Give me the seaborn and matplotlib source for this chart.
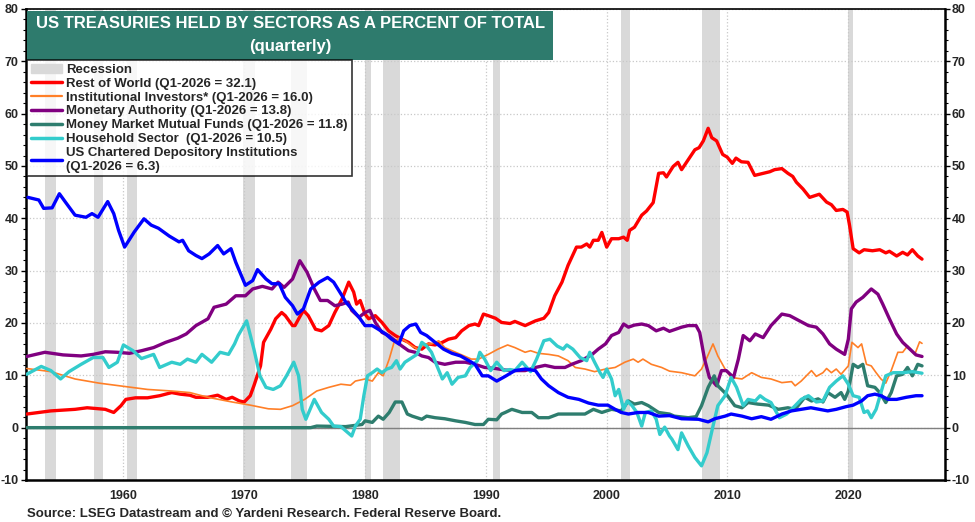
import matplotlib
matplotlib.use("Agg")
import matplotlib.pyplot as plt
import matplotlib.patches as mpatches
from matplotlib.ticker import MultipleLocator
import seaborn as sns
import pandas as pd

# ---- data (year, percent of total) ----
row_years = [1952.0, 1954, 1956, 1957, 1958.5, 1959.2, 1959.8, 1960.2, 1961, 1962, 1963, 1964, 1964.7,
             1965.5, 1966, 1967, 1967.8, 1968.5, 1969, 1969.6, 1970.0, 1970.5, 1970.8, 1971.35, 1971.6,
             1972.2, 1972.6, 1973.1, 1973.4, 1974.0, 1974.2, 1974.65, 1974.9, 1975.3, 1975.9, 1976.4,
             1977.0, 1977.5, 1978.1, 1978.65, 1979.06, 1979.3, 1979.6, 1980.0, 1980.3, 1980.85, 1981.4,
             1981.95, 1982.5, 1983.05, 1983.6, 1984.15, 1984.7, 1985.25, 1985.8, 1986.4, 1986.9, 1987.5,
             1988.0, 1988.6, 1989.1, 1989.4, 1989.8, 1990.2, 1990.8, 1991.3, 1992.0, 1992.4, 1993.25,
             1994.1, 1994.8, 1995.2, 1995.7, 1996.3, 1996.8, 1997.5, 1997.9, 1998.35, 1998.6, 1998.9,
             1999.3, 1999.6, 2000.0, 2000.4, 2001.0, 2001.4, 2001.7, 2001.9, 2002.3, 2002.9, 2003.3,
             2003.85, 2004.3, 2004.7, 2004.95, 2005.5, 2005.9, 2006.2, 2006.75, 2007.3, 2007.65, 2008.0,
             2008.4, 2008.7, 2009.1, 2009.6, 2009.97, 2010.4, 2010.7, 2011.15, 2011.7, 2012.25, 2012.95,
             2013.5, 2013.9, 2014.5, 2015.0, 2015.4, 2015.7, 2016.25, 2016.8, 2017.6, 2018.2, 2018.6,
             2019.0, 2019.55, 2019.9, 2020.1, 2020.4, 2020.9, 2021.3, 2022.0, 2022.6, 2023.1, 2023.4,
             2024.0, 2024.5, 2024.9, 2025.3, 2025.75, 2026.1]
row_vals = [2.6, 3.2, 3.5, 3.8, 3.5, 2.9, 4.2, 5.4, 5.7, 5.7, 6.1, 6.7, 6.4,
            6.2, 5.8, 5.8, 6.2, 5.4, 5.8, 5.1, 4.9, 6.1, 8.0, 11.8, 16.3,
            18.8, 20.8, 22.0, 21.4, 19.5, 19.5, 21.4, 22.4, 21.4, 18.8, 18.5,
            19.5, 22.0, 24.6, 27.8, 25.9, 23.6, 24.3, 21.7, 20.8, 21.4, 20.1,
            18.5, 17.6, 16.9, 16.3, 15.3, 15.0, 16.0, 15.8, 16.3, 16.9, 17.2,
            18.5, 19.5, 19.8, 19.5, 21.7, 21.4, 20.9, 20.1, 19.9, 20.3, 19.5,
            20.4, 20.9, 22.0, 25.2, 27.8, 31.0, 34.5, 34.5, 35.1, 34.5, 35.8,
            35.8, 37.3, 34.5, 36.1, 36.1, 36.4, 35.8, 37.7, 38.3, 40.6, 41.4,
            43.0, 48.6, 48.7, 47.9, 49.9, 50.7, 49.3, 51.2, 53.1, 53.5, 54.8,
            57.2, 55.4, 54.8, 52.2, 51.7, 50.5, 51.5, 50.8, 50.7, 48.2, 48.6,
            48.9, 49.3, 49.5, 48.6, 48.0, 46.9, 45.6, 44.0, 44.6, 43.1, 42.6,
            41.5, 41.7, 41.2, 38.7, 34.2, 33.4, 34.0, 33.8, 34.0, 33.4, 33.7,
            32.8, 33.5, 33.0, 34.0, 32.8, 32.2]

inst_years = [1952, 1954, 1956, 1958, 1960, 1962, 1964, 1965.5, 1967, 1969, 1970.5, 1972, 1973, 1974,
              1975, 1976, 1977, 1978, 1978.8, 1979.2, 1980, 1980.6, 1981.1, 1981.5, 1982.0, 1982.4,
              1982.8, 1983.3, 1983.9, 1984.4, 1985.0, 1985.5, 1986.1, 1986.6, 1987.5, 1988.2, 1988.8,
              1989.4, 1990.2, 1991.0, 1991.8, 1992.4, 1993.25, 1993.7, 1994.35, 1995.2, 1996.0, 1996.8,
              1997.4, 1998.2, 1999.0, 1999.9, 2000.7, 2001.5, 2002.2, 2002.6, 2003.0, 2003.7, 2004.55,
              2005.2, 2006.2, 2007.3, 2007.85, 2008.3, 2008.8, 2009.2, 2009.8, 2010.3, 2011.2, 2012.0,
              2012.8, 2013.6, 2014.5, 2015.3, 2015.6, 2016.1, 2016.95, 2017.35, 2017.9, 2018.2, 2018.6,
              2019.0, 2019.4, 2020.0, 2020.3, 2020.8, 2021.1, 2021.5, 2021.9, 2022.3, 2022.7, 2023.1,
              2023.55, 2024.1, 2024.5, 2024.9, 2025.5, 2025.9, 2026.1]
inst_vals = [11.3, 10.7, 9.3, 8.5, 7.9, 7.3, 7.0, 6.7, 5.8, 4.9, 4.3, 3.6, 3.5, 4.2,
             5.4, 7.0, 7.7, 8.3, 8.1, 8.9, 9.3, 8.9, 10.5, 9.9, 13.1, 16.3,
             17.1, 16.6, 15.6, 15.0, 16.0, 16.0, 16.6, 15.3, 14.4, 13.7, 13.1,
             13.1, 14.0, 15.0, 15.8, 15.3, 14.4, 14.7, 14.2, 14.0, 13.7, 12.8,
             11.5, 11.2, 10.7, 11.2, 11.5, 12.5, 13.1, 12.5, 13.1, 12.1, 11.5,
             10.8, 10.5, 9.9, 11.2, 13.4, 16.0, 13.7, 11.2, 9.6, 9.3, 10.5,
             9.6, 9.3, 8.6, 8.8, 8.0, 8.9, 10.9, 9.8, 10.5, 11.3, 10.5,
             11.2, 10.2, 11.8, 16.3, 15.3, 16.0, 12.1, 11.8, 10.5, 9.3, 8.5,
             10.9, 14.4, 14.4, 15.6, 14.0, 16.4, 16.1]

mon_years = [1952, 1953.5, 1955, 1956.5, 1957.5, 1958.5, 1959.5, 1960.5, 1961.5, 1962.5, 1963.5, 1964.5,
             1965.2, 1966, 1967, 1967.5, 1968.5, 1969.3, 1970.1, 1970.7, 1971.5, 1972.3, 1972.8, 1973.3,
             1974.0, 1974.6, 1975.2, 1975.8, 1976.3, 1976.9, 1977.5, 1978.1, 1978.6, 1978.9, 1979.5,
             1980.0, 1980.4, 1980.85, 1981.4, 1981.95, 1982.5, 1983.05, 1983.6, 1984.15, 1984.7, 1985.25,
             1985.8, 1986.6, 1987.5, 1988.3, 1989.1, 1989.9, 1990.8, 1991.6, 1992.4, 1993.25, 1994.1,
             1994.9, 1995.7, 1996.55, 1997.1, 1997.9, 1998.8, 1999.3, 1999.9, 2000.4, 2001.0, 2001.4,
             2001.8, 2002.3, 2002.9, 2003.45, 2004.1, 2004.7, 2005.2, 2006.2, 2006.75, 2007.4, 2007.7,
             2008.1, 2008.5, 2009.1, 2009.5, 2009.9, 2010.5, 2010.9, 2011.3, 2011.85, 2012.3, 2012.95,
             2013.6, 2014.5, 2015.15, 2015.8, 2016.7, 2017.35, 2017.9, 2018.45, 2019.0, 2019.7, 2020.0,
             2020.25, 2020.65, 2021.2, 2021.9, 2022.45, 2022.85, 2023.4, 2024.0, 2024.5, 2025.1, 2025.6,
             2026.1]
mon_vals = [13.6, 14.4, 13.9, 13.7, 14.0, 14.5, 14.4, 14.2, 14.7, 15.3, 16.3, 17.1,
            17.9, 19.5, 20.8, 23.0, 23.6, 25.2, 25.2, 26.5, 27.0, 26.5, 27.8, 26.8,
            28.4, 31.9, 29.7, 26.5, 24.3, 24.3, 23.3, 23.6, 24.0, 22.4, 21.1,
            22.0, 22.4, 20.1, 18.2, 17.6, 16.6, 15.6, 14.7, 14.4, 13.7, 13.4,
            12.5, 12.1, 12.5, 12.5, 12.1, 11.5, 11.3, 11.0, 10.9, 10.9, 11.5,
            11.9, 11.5, 11.5, 12.1, 12.8, 14.0, 15.0, 16.0, 17.6, 18.2, 19.8,
            19.2, 19.6, 19.8, 19.5, 18.5, 19.0, 18.4, 19.2, 19.5, 19.5, 18.2,
            13.1, 9.6, 8.0, 10.9, 10.9, 9.6, 13.1, 17.6, 16.6, 17.9, 17.2,
            19.5, 21.7, 21.4, 20.6, 19.5, 19.2, 17.9, 16.0, 15.0, 14.0, 16.9,
            22.7, 24.0, 24.9, 26.5, 25.5, 23.6, 20.8, 17.9, 16.3, 15.0, 13.9,
            13.6]

mmmf_years = [1952, 1975.5, 1976, 1978.4, 1979.75, 1980.0, 1980.6, 1981.1, 1981.5, 1982.0, 1982.5, 1983.05,
              1983.5, 1983.9, 1984.7, 1985.1, 1985.8, 1986.6, 1987.5, 1988.3, 1989.1, 1989.8, 1990.2,
              1990.9, 1991.3, 1991.6, 1992.15, 1993.0, 1993.8, 1994.35, 1995.2, 1996.0, 1997.1, 1998.2,
              1998.9, 1999.6, 2000.4, 2001.2, 2001.8, 2002.3, 2002.9, 2003.45, 2004.3, 2005.2, 2005.6,
              2006.75, 2007.4, 2007.85, 2008.4, 2008.9, 2009.2, 2009.9, 2010.6, 2011.2, 2011.7, 2012.5,
              2013.4, 2014.2, 2015.0, 2015.6, 2016.4, 2016.95, 2017.5, 2017.9, 2018.3, 2018.9, 2019.4,
              2019.7, 2020.0, 2020.4, 2020.8, 2021.2, 2021.6, 2022.2, 2022.6, 2023.1, 2023.55, 2024.0,
              2024.5, 2024.9, 2025.3, 2025.75, 2026.1]
mmmf_vals = [0.0, 0.0, 0.3, 0.2, 0.6, 1.3, 1.0, 2.2, 1.6, 2.9, 4.9, 4.9,
             2.6, 2.2, 1.6, 2.2, 1.9, 1.7, 1.3, 1.0, 0.6, 0.6, 1.6,
             1.5, 2.6, 2.9, 3.5, 2.9, 2.9, 1.9, 1.9, 2.6, 2.6, 2.6,
             3.5, 2.9, 3.5, 3.2, 5.1, 4.5, 4.8, 4.2, 2.9, 2.6, 2.2,
             1.9, 2.1, 4.2, 7.7, 9.9, 8.0, 6.4, 4.2, 3.8, 4.8, 4.5,
             4.3, 3.5, 3.8, 3.5, 5.8, 5.1, 5.5, 4.9, 6.7, 5.8, 6.7,
             5.4, 7.0, 12.1, 11.5, 12.1, 8.0, 7.7, 6.7, 4.8, 6.7, 9.9,
             10.2, 11.5, 9.9, 12.1, 11.8]

hh_years = [1952, 1953.2, 1954.0, 1954.8, 1955.5, 1956.5, 1957.5, 1958.3, 1958.8, 1959.5, 1960.0, 1960.8,
            1961.5, 1962.5, 1963.0, 1964.0, 1964.7, 1965.3, 1966.0, 1966.5, 1967.3, 1968.0, 1968.7,
            1969.2, 1969.5, 1970.2, 1970.8, 1971.3, 1971.8, 1972.4, 1973.0, 1973.5, 1974.1, 1974.5,
            1974.8, 1975.1, 1975.8, 1976.4, 1977.0, 1977.4, 1978.0, 1978.6, 1978.9, 1979.2, 1979.6,
            1979.9, 1980.2, 1980.6, 1981.0, 1981.4, 1981.8, 1982.2, 1982.6, 1982.9, 1983.3, 1983.9,
            1984.3, 1984.7, 1985.1, 1985.5, 1985.9, 1986.4, 1986.8, 1987.2, 1987.7, 1988.3, 1988.7,
            1989.3, 1989.5, 1989.9, 1990.4, 1990.9, 1991.5, 1992.0, 1992.4, 1993.0, 1993.7, 1994.2,
            1994.8, 1995.3, 1995.9, 1996.4, 1996.7, 1997.2, 1997.8, 1998.35, 1998.6, 1999.0, 1999.45,
            1999.7, 2000.0, 2000.4, 2000.7, 2001.0, 2001.4, 2001.7, 2002.1, 2002.5, 2002.9, 2003.2,
            2003.7, 2004.1, 2004.4, 2004.8, 2005.2, 2005.4, 2005.9, 2006.2, 2006.75, 2007.3, 2007.85,
            2008.3, 2008.8, 2009.2, 2009.8, 2010.3, 2010.75, 2011.3, 2011.7, 2012.3, 2012.7, 2013.1,
            2013.6, 2014.3, 2014.9, 2015.6, 2016.1, 2016.7, 2017.35, 2017.9, 2018.45, 2019.0, 2019.55,
            2020.0, 2020.4, 2020.9, 2021.3, 2021.6, 2021.9, 2022.3, 2022.7, 2023.1, 2023.7, 2024.5,
            2025.3, 2026.1]
hh_vals = [10.2, 11.7, 10.9, 9.3, 10.7, 12.1, 13.4, 13.4, 11.5, 12.5, 15.8, 14.7,
           13.2, 14.0, 11.5, 12.5, 12.1, 13.1, 12.5, 14.0, 12.5, 14.4, 14.0,
           16.0, 17.6, 20.4, 15.0, 9.9, 7.7, 7.3, 8.0, 9.9, 12.5, 9.9,
           3.5, 1.6, 5.4, 2.9, 1.6, 0.3, 0.2, -1.0, -1.6, 0.3, 1.6,
           6.1, 9.9, 10.5, 11.2, 10.5, 11.2, 11.5, 12.8, 11.2, 12.5, 13.4,
           14.0, 16.3, 15.6, 14.4, 12.1, 9.3, 10.5, 8.3, 9.6, 9.9, 11.5,
           12.8, 14.4, 13.1, 10.9, 12.5, 10.9, 11.1, 10.9, 12.5, 10.7, 13.1,
           16.6, 16.9, 15.6, 15.0, 15.8, 15.0, 13.4, 12.8, 14.4, 12.5, 10.5,
           9.6, 11.2, 9.3, 6.1, 7.3, 3.5, 5.1, 4.2, 2.9, 0.3, 2.9,
           3.2, 1.6, -1.3, 0.1, -1.6, -2.2, -4.2, -1.0, -3.5, -5.7, -7.3,
           -4.8, 0.3, 4.2, 6.1, 9.6, 7.7, 4.2, 5.4, 5.1, 6.1, 5.4,
           4.8, 1.9, 2.6, 4.2, 5.4, 6.1, 4.9, 5.1, 7.7, 8.9, 9.9,
           8.3, 6.1, 5.8, 2.9, 3.2, 1.9, 3.5, 6.7, 9.9, 10.5, 10.5,
           10.7, 10.4]

bank_years = [1952.1, 1953.0, 1953.4, 1954.1, 1954.7, 1955.2, 1956.0, 1956.9, 1957.4, 1957.9, 1958.7,
              1959.2, 1959.6, 1960.1, 1960.9, 1961.7, 1962.3, 1962.9, 1963.8, 1964.6, 1964.9, 1965.4,
              1966.0, 1966.5, 1967.1, 1967.8, 1968.3, 1968.9, 1969.3, 1970.1, 1970.7, 1971.1, 1971.8,
              1972.3, 1972.9, 1973.4, 1974.0, 1974.4, 1974.9, 1975.5, 1976.2, 1976.9, 1977.4, 1978.1,
              1978.4, 1978.9, 1979.5, 1980.0, 1980.6, 1981.1, 1981.7, 1982.2, 1982.8, 1983.2, 1983.7,
              1984.2, 1984.6, 1985.1, 1985.8, 1986.5, 1987.2, 1987.9, 1988.6, 1989.1, 1989.7, 1990.2,
              1990.9, 1991.6, 1992.4, 1993.25, 1994.1, 1994.6, 1995.2, 1996.0, 1996.8, 1997.7, 1998.5,
              1999.3, 2000.1, 2000.7, 2001.2, 2001.8, 2002.6, 2003.45, 2004.3, 2005.2, 2006.2, 2007.6,
              2008.4, 2008.95, 2009.8, 2010.3, 2011.2, 2012.0, 2012.8, 2013.6, 2014.5, 2015.3, 2016.1,
              2016.9, 2017.6, 2018.3, 2019.0, 2019.8, 2020.4, 2021.1, 2021.6, 2022.2, 2022.7, 2023.3,
              2024.0, 2024.8, 2025.6, 2026.1]
bank_vals = [44.0, 43.5, 41.9, 42.0, 44.7, 43.1, 40.6, 40.2, 40.9, 40.2, 43.2,
             40.9, 37.7, 34.5, 37.4, 39.9, 38.7, 38.1, 36.6, 35.5, 35.8, 33.8,
             32.9, 32.3, 33.2, 34.8, 33.2, 34.2, 31.6, 27.2, 28.1, 30.2, 28.4,
             27.5, 27.5, 24.9, 23.3, 21.7, 22.7, 26.5, 27.8, 28.7, 27.8, 25.2,
             24.0, 22.7, 21.1, 19.5, 19.5, 18.8, 17.9, 16.9, 16.0, 18.5, 19.5,
             19.8, 18.2, 17.6, 16.3, 15.0, 14.2, 13.7, 12.8, 12.1, 9.9, 9.9,
             8.9, 9.8, 10.9, 11.2, 10.9, 9.3, 8.0, 6.7, 5.8, 5.4, 4.7,
             4.3, 4.3, 3.5, 2.9, 2.6, 2.9, 2.9, 2.2, 2.3, 1.7, 1.6,
             1.1, 1.7, 2.2, 2.6, 2.2, 1.7, 2.1, 1.6, 2.6, 3.2, 3.5,
             3.8, 3.5, 3.2, 3.5, 4.0, 4.3, 5.1, 6.1, 6.4, 6.1, 5.4,
             5.4, 5.8, 6.1, 6.1]

recession_start = [1953.5, 1957.6, 1960.3, 1969.9, 1973.9, 1980.0, 1981.5, 1990.6, 2001.2, 2007.9, 2020.0]
recession_end = [1954.4, 1958.3, 1961.1, 1970.9, 1975.2, 1980.5, 1982.9, 1991.2, 2001.9, 2009.4, 2020.4]

labels = ["Rest of World (Q1-2026 = 32.1)",
          "Institutional Investors* (Q1-2026 = 16.0)",
          "Monetary Authority (Q1-2026 = 13.8)",
          "Money Market Mutual Funds (Q1-2026 = 11.8)",
          "Household Sector  (Q1-2026 = 10.5)",
          "US Chartered Depository Institutions\n(Q1-2026 = 6.3)"]

sns.set_theme(style="white")
plt.rcParams['font.family'] = ['Liberation Sans', 'DejaVu Sans']
plt.rcParams['font.weight'] = 'bold'

fig = plt.figure(figsize=(9.75, 5.22), dpi=100)
ax = fig.add_axes([0.0262, 0.0805, 0.943, 0.9023])

# recession shading
for s, e in zip(recession_start, recession_end):
    ax.axvspan(s, e, color='#D9D9D9', lw=0, zorder=0)

ax.axhline(0, color='#808080', lw=1.0, zorder=1)

series = [
    (row_years, row_vals, '#FF0000', 2.4),
    (inst_years, inst_vals, '#FF7F27', 1.2),
    (mon_years, mon_vals, '#800080', 2.4),
    (mmmf_years, mmmf_vals, '#2E7D6E', 2.4),
    (hh_years, hh_vals, '#33CCCC', 2.4),
    (bank_years, bank_vals, '#0000FF', 2.4),
]
handles = [mpatches.Patch(color='#D9D9D9', label='Recession')]
for (xs, ys, col, lw), lab in zip(series, labels):
    df = pd.DataFrame({'year': xs, 'pct': ys})
    sns.lineplot(data=df, x='year', y='pct', color=col, lw=lw, ax=ax, zorder=3, legend=False)
    handles.append(plt.Line2D([], [], color=col, lw=2.5 if lw > 2 else 1.6, label=lab))

ax.set_xlim(1951.9, 2028.0)
ax.set_ylim(-10, 80)
ax.set_xlabel('')
ax.set_ylabel('')

ax.xaxis.set_minor_locator(MultipleLocator(1))
ax.yaxis.set_minor_locator(MultipleLocator(2))
ax.set_xticks(range(1960, 2030, 10))
ax.set_xticklabels([str(y) for y in range(1960, 2030, 10)])
ax.set_yticks(range(-10, 90, 10))
ax.set_yticklabels([str(v) for v in range(-10, 90, 10)])

ax.grid(True, which='major', color='#C8C8C8', ls=':', lw=0.9, zorder=0)
ax.tick_params(axis='both', which='both', direction='out', color='black')
ax.tick_params(axis='x', which='major', length=4, width=1, labelsize=9, pad=3)
ax.tick_params(axis='x', which='minor', length=2.5, width=0.8)
ax.tick_params(axis='y', which='major', length=3.5, width=1, labelsize=9, pad=1.5,
               left=True, right=True, labelleft=True, labelright=True)
ax.tick_params(axis='y', which='minor', length=2.5, width=0.8, left=True, right=True)
for lab in ax.get_xticklabels() + ax.get_yticklabels():
    lab.set_fontweight('bold')
for sp in ax.spines.values():
    sp.set_visible(True)
    sp.set_color('black')
    sp.set_linewidth(1.8)
ax.spines['top'].set_linewidth(1.2)

# title box
ax.add_patch(mpatches.Rectangle((0.002, 0.892), 0.572, 0.104, transform=ax.transAxes,
                                facecolor='#2E7B6D', edgecolor='none', zorder=5))
ax.text(0.288, 0.969, 'US TREASURIES HELD BY SECTORS AS A PERCENT OF TOTAL', transform=ax.transAxes,
        ha='center', va='center', color='white', fontsize=12, fontweight='bold', zorder=6)
ax.text(0.288, 0.921, '(quarterly)', transform=ax.transAxes,
        ha='center', va='center', color='white', fontsize=12, fontweight='bold', zorder=6)

leg = ax.legend(handles=handles, loc='upper left', bbox_to_anchor=(0.002, 0.892),
                frameon=True, fancybox=False, fontsize=9.5, handlelength=2.3,
                handletextpad=0.35, labelspacing=0.12, borderpad=0.3, borderaxespad=0.0)
leg.get_frame().set_edgecolor('black')
leg.get_frame().set_linewidth(1.2)
leg.set_zorder(6)
for t in leg.get_texts():
    t.set_fontweight('bold')

fig.text(0.028, 0.004, 'Source: LSEG Datastream and \u00a9 Yardeni Research. Federal Reserve Board.',
         fontsize=9.5, fontweight='bold', ha='left', va='bottom')

fig.savefig('out.png', dpi=100)
